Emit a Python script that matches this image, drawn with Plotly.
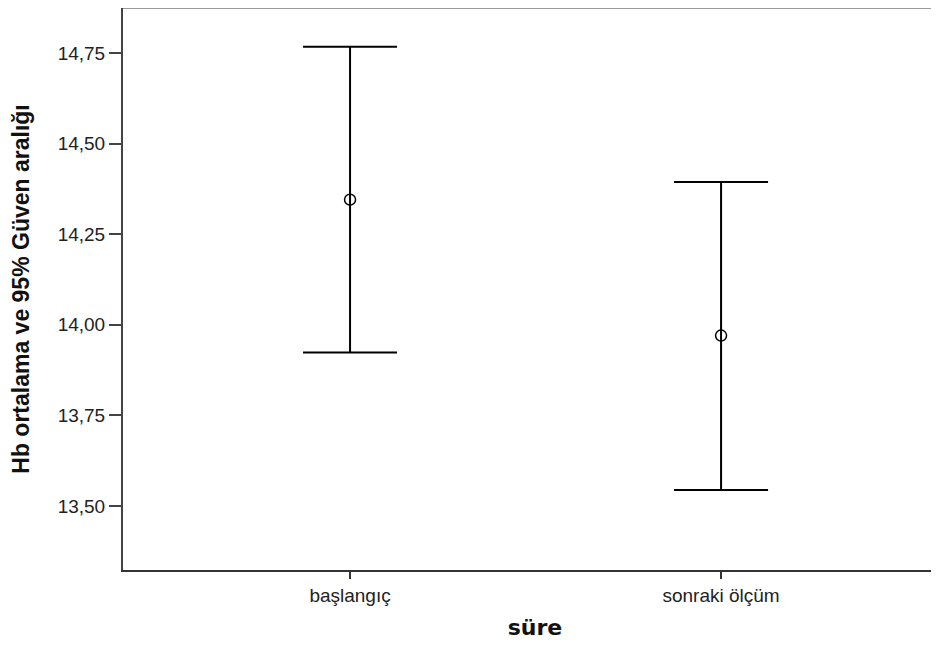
import plotly.graph_objects as go

categories = ["başlangıç", "sonraki ölçüm"]
means = [14.345, 13.970]
upper = [14.767, 14.394]
lower = [13.923, 13.544]
y_ticks = [13.50, 13.75, 14.00, 14.25, 14.50, 14.75]
y_tick_labels = ["13,50", "13,75", "14,00", "14,25", "14,50", "14,75"]

err_plus = [u - m for u, m in zip(upper, means)]
err_minus = [m - l for m, l in zip(means, lower)]

fig = go.Figure()
fig.add_trace(go.Scatter(
    x=categories, y=means, mode="markers",
    marker=dict(symbol="circle-open", size=11, color="black", line=dict(width=1.5, color="black")),
    error_y=dict(type="data", symmetric=False, array=err_plus, arrayminus=err_minus,
                 width=47, thickness=2, color="black"),
    showlegend=False, hoverinfo="skip",
))

tick_font = dict(family="Arial, 'Liberation Sans', sans-serif", size=19, color="#222")

fig.update_layout(
    width=939, height=645,
    margin=dict(l=115, r=0, t=0, b=83),
    paper_bgcolor="white", plot_bgcolor="white",
    xaxis=dict(
        type="category", range=[-0.612, 1.609],
        showline=True, linecolor="#333", linewidth=2,
        ticks="outside", ticklen=7, tickwidth=2, tickcolor="#333",
        tickfont=tick_font, showgrid=False, zeroline=False,
        title=dict(text="süre", font=dict(family="'DejaVu Sans', sans-serif", size=22, color="#111", weight="bold"), standoff=15),
        automargin=False,
    ),
    yaxis=dict(
        range=[13.323, 14.874],
        tickvals=y_ticks, ticktext=y_tick_labels,
        showline=True, linecolor="#444", linewidth=2,
        ticks="outside", ticklen=12, tickwidth=2, tickcolor="#444",
        tickfont=tick_font, showgrid=False, zeroline=False,
        title=dict(text="Hb ortalama ve 95% Güven aralığı", font=dict(family="Arial, 'Liberation Sans', sans-serif", size=23, color="#111", weight="bold"), standoff=23),
        automargin=False,
    ),
    shapes=[dict(type="line", xref="paper", yref="paper", x0=0, x1=1, y0=1, y1=1,
                 line=dict(color="#999", width=2))],
)

fig.write_html("out.html")
